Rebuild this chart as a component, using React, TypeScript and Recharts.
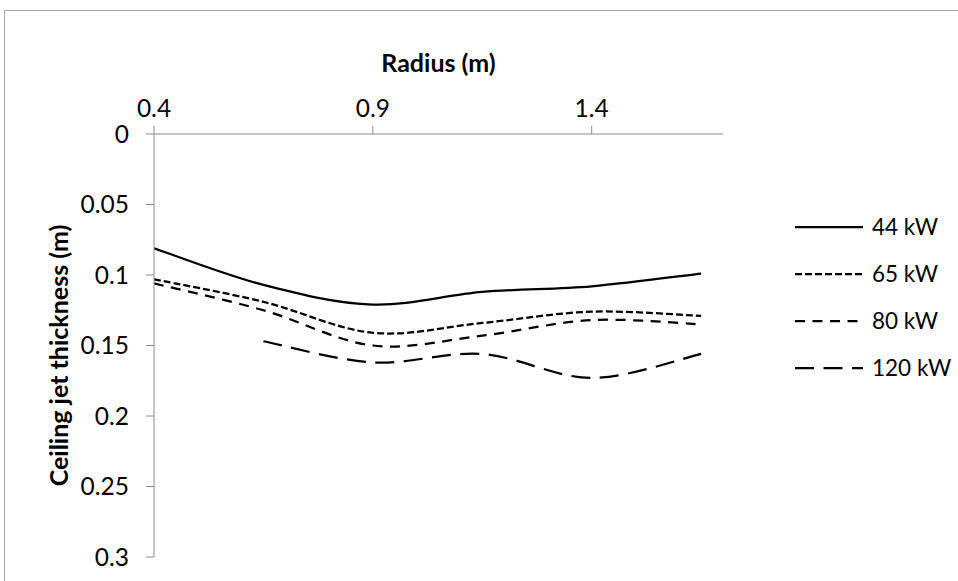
import React from "react";
import { LineChart, Line, XAxis, YAxis, Label } from "recharts";

// Radial positions (m) at which the ceiling jet thickness was measured
const radius = [0.4, 0.65, 0.9, 1.15, 1.4, 1.65];

// Ceiling jet thickness (m) for each fire size
const kw44 = [0.081, 0.107, 0.121, 0.112, 0.108, 0.099];
const kw65 = [0.103, 0.119, 0.141, 0.134, 0.126, 0.129];
const kw80 = [0.106, 0.125, 0.15, 0.143, 0.132, 0.135];
const kw120 = [null, 0.147, 0.162, 0.156, 0.173, 0.156];

const xTicks = [0.4, 0.9, 1.4];
const yTicks = [0, 0.05, 0.1, 0.15, 0.2, 0.25, 0.3];

const seriesNames = ["44 kW", "65 kW", "80 kW", "120 kW"];
const dashes = ["", "7 3", "10 7.5", "19 9.5"];

const data = radius.map((r, i) => ({
  r,
  a: kw44[i],
  b: kw65[i],
  c: kw80[i],
  d: kw120[i],
}));

// Smoothed line through the points (cubic Bezier with Catmull-Rom tangents)
function smoothCurve(context: any) {
  let pts: number[][] = [];
  return {
    areaStart() {},
    areaEnd() {},
    lineStart() {
      pts = [];
    },
    point(x: number, y: number) {
      pts.push([+x, +y]);
    },
    lineEnd() {
      if (!pts.length) return;
      context.moveTo(pts[0][0], pts[0][1]);
      for (let i = 0; i < pts.length - 1; i++) {
        const p0 = pts[i - 1] || pts[i];
        const p1 = pts[i];
        const p2 = pts[i + 1];
        const p3 = pts[i + 2] || p2;
        context.bezierCurveTo(
          p1[0] + (p2[0] - p0[0]) / 6,
          p1[1] + (p2[1] - p0[1]) / 6,
          p2[0] - (p3[0] - p1[0]) / 6,
          p2[1] - (p3[1] - p1[1]) / 6,
          p2[0],
          p2[1]
        );
      }
    },
  };
}

const FONT = "Lato, 'Open Sans', sans-serif";
const AXIS = "#8c8c8c";

function SeriesKey() {
  return (
    <svg
      width={170}
      height={200}
      style={{ position: "absolute", left: 793, top: 200 }}
    >
      {seriesNames.map((name, i) => (
        <g key={name} transform={`translate(0, ${27 + i * 47})`}>
          <line
            x1={2}
            x2={70}
            y1={0}
            y2={0}
            stroke="#000"
            strokeWidth={2.25}
            strokeDasharray={dashes[i] || undefined}
          />
          <text
            x={79}
            y={0}
            dy="0.35em"
            fontSize={22.5}
            fontFamily={FONT}
            fill="#000"
          >
            {name}
          </text>
        </g>
      ))}
    </svg>
  );
}

export default function App() {
  const keys = ["a", "b", "c", "d"];
  return (
    <div
      style={{
        position: "absolute",
        left: 0,
        top: 0,
        width: 958,
        height: 581,
        overflow: "hidden",
        background: "#fff",
      }}
    >
      <div
        style={{
          position: "absolute",
          left: 4,
          top: 10,
          width: 1200,
          height: 1200,
          border: "1px solid #a6a6a6",
        }}
      />
      <div style={{ position: "absolute", left: 0, top: 0 }}>
        <LineChart
          width={958}
          height={581}
          data={data}
          margin={{ top: 0, right: 235, bottom: 24, left: 0 }}
        >
          <XAxis
            dataKey="r"
            type="number"
            orientation="top"
            domain={[0.4, 1.7]}
            ticks={xTicks}
            allowDataOverflow
            height={134}
            stroke={AXIS}
            tickLine={{ stroke: AXIS }}
            tickSize={8}
            tickMargin={9}
            tick={{ fill: "#000", fontSize: 24.5, fontFamily: FONT }}
          >
            <Label
              value="Radius (m)"
              position="insideTop"
              offset={54}
              style={{
                fontWeight: 700,
                fontSize: 25,
                fontFamily: FONT,
                fill: "#000",
              }}
            />
          </XAxis>
          <YAxis
            type="number"
            reversed
            domain={[0, 0.3]}
            ticks={yTicks}
            width={154}
            stroke={AXIS}
            tickLine={{ stroke: AXIS }}
            tickSize={8}
            tickMargin={17}
            tick={{ fill: "#000", fontSize: 24.5, fontFamily: FONT }}
          >
            <Label
              value="Ceiling jet thickness (m)"
              angle={-90}
              position="insideLeft"
              offset={59}
              viewBox={{ x: 0, y: 144, width: 154, height: 423 }}
              style={{
                textAnchor: "middle",
                fontWeight: 700,
                fontSize: 25,
                fontFamily: FONT,
                fill: "#000",
              }}
            />
          </YAxis>
          {keys.map((k, i) => (
            <Line
              key={k}
              dataKey={k}
              name={seriesNames[i]}
              type={smoothCurve as any}
              stroke="#000"
              strokeWidth={2.25}
              strokeDasharray={dashes[i] || undefined}
              dot={false}
              activeDot={false}
              isAnimationActive={false}
            />
          ))}
        </LineChart>
      </div>
      <SeriesKey />
    </div>
  );
}
